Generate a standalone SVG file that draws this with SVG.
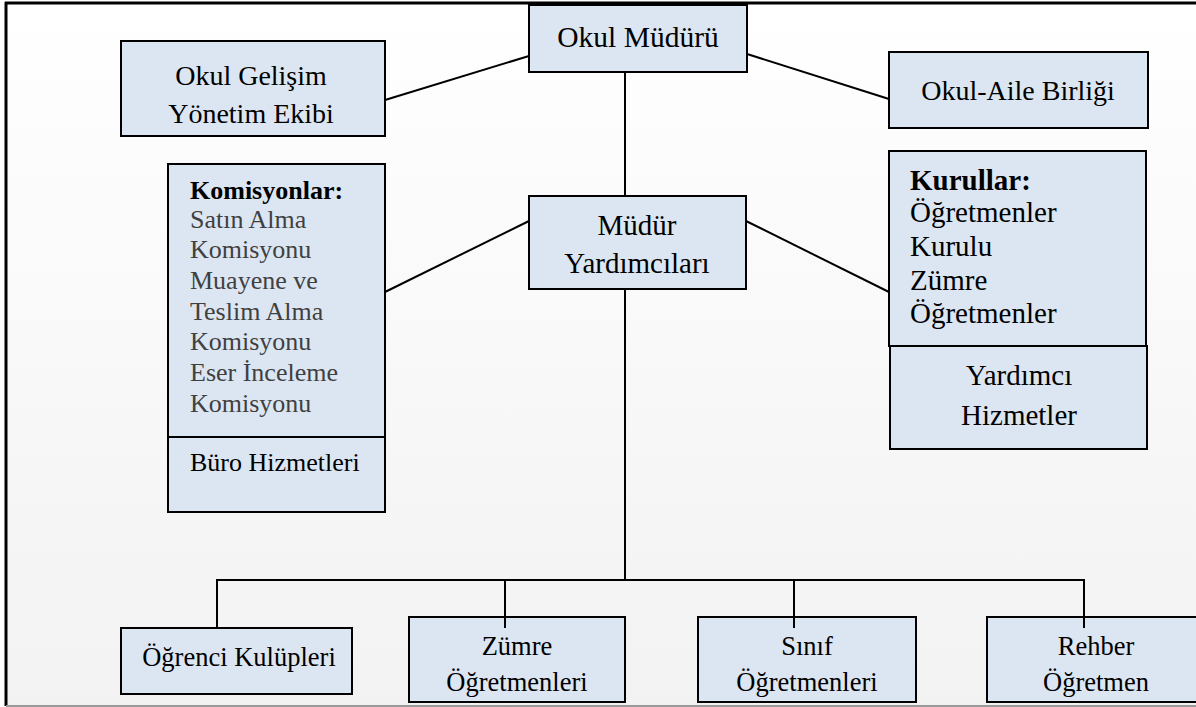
<svg xmlns="http://www.w3.org/2000/svg" width="1196" height="707" viewBox="0 0 1196 707">
<defs>
<linearGradient id="bg" x1="0" y1="0" x2="0" y2="1">
<stop offset="0" stop-color="#ffffff"/>
<stop offset="1" stop-color="#f2f2f2"/>
</linearGradient>
</defs>
<style>
.box{fill:#dce6f2;stroke:#000;stroke-width:2}
text{font-family:'Liberation Serif','Times New Roman','DejaVu Serif',serif}
.t{font-size:29px;fill:#000}
.m{font-size:28px;fill:#000}
.u{font-size:26.5px;fill:#000}
.c{text-anchor:middle}
.s{font-size:26px;fill:#404040}
.b{font-weight:bold;fill:#000}
.k{fill:#000}
.ln{stroke:#000;stroke-width:2;fill:none}
</style>
<rect x="0" y="0" width="1196" height="707" fill="#ffffff"/>
<rect x="6" y="3" width="1190" height="703" fill="url(#bg)"/>
<g id="frame">
<line x1="5" y1="3" x2="1196" y2="3" stroke="#000" stroke-width="3"/>
<line x1="6" y1="2" x2="6" y2="706" stroke="#000" stroke-width="3"/>
<line x1="6" y1="706" x2="1196" y2="706" stroke="#999" stroke-width="2"/>
</g>
<g id="connectors">
<line class="ln" x1="529" y1="56" x2="385" y2="100"/>
<line class="ln" x1="747" y1="54" x2="889" y2="99"/>
<line class="ln" x1="625" y1="72" x2="625" y2="196"/>
<line class="ln" x1="529" y1="221" x2="385" y2="292"/>
<line class="ln" x1="746" y1="221" x2="889" y2="292"/>
<line class="ln" x1="625" y1="289" x2="625" y2="580"/>
<line class="ln" x1="216" y1="580" x2="1085" y2="580"/>
<line class="ln" x1="217" y1="580" x2="217" y2="628"/>
<line class="ln" x1="505" y1="580" x2="505" y2="628"/>
<line class="ln" x1="794" y1="580" x2="794" y2="628"/>
<line class="ln" x1="1084" y1="580" x2="1084" y2="628"/>
</g>
<g id="okul-muduru">
<rect class="box" x="529" y="5" width="218" height="67"/>
<text class="t c" x="638" y="47" style="font-size:29.5px">Okul Müdürü</text>
</g>
<g id="okul-gelisim">
<rect class="box" x="121" y="41" width="264" height="95"/>
<text class="m c" x="251" y="85">Okul Gelişim</text>
<text class="m c" x="251" y="123">Yönetim Ekibi</text>
</g>
<g id="okul-aile">
<rect class="box" x="889" y="52" width="259" height="76"/>
<text class="m c" x="1018" y="100">Okul-Aile Birliği</text>
</g>
<g id="mudur-yardimcilari">
<rect class="box" x="529" y="196" width="217" height="93"/>
<text class="t c" x="637" y="235">Müdür</text>
<text class="t c" x="637" y="273">Yardımcıları</text>
</g>
<g id="komisyonlar">
<rect class="box" x="168" y="164" width="217" height="273"/>
<text class="s b" x="190" y="199">Komisyonlar:</text>
<text class="s" x="190" y="228">Satın Alma</text>
<text class="s" x="190" y="258">Komisyonu</text>
<text class="s" x="190" y="289">Muayene ve</text>
<text class="s" x="190" y="320">Teslim Alma</text>
<text class="s" x="190" y="350">Komisyonu</text>
<text class="s" x="190" y="381">Eser İnceleme</text>
<text class="s" x="190" y="412">Komisyonu</text>
</g>
<g id="buro-hizmetleri">
<rect class="box" x="168" y="437" width="217" height="75"/>
<text class="s k" x="190" y="471">Büro Hizmetleri</text>
</g>
<g id="kurullar">
<rect class="box" x="889" y="151" width="257" height="195"/>
<text class="t b" x="910" y="190">Kurullar:</text>
<text class="t" x="910" y="222">Öğretmenler</text>
<text class="t" x="910" y="256">Kurulu</text>
<text class="t" x="910" y="290">Zümre</text>
<text class="t" x="910" y="323">Öğretmenler</text>
</g>
<g id="yardimci-hizmetler">
<rect class="box" x="890" y="346" width="257" height="103"/>
<text class="t c" x="1019" y="385">Yardımcı</text>
<text class="t c" x="1019" y="425">Hizmetler</text>
</g>
<g id="ogrenci-kulupleri">
<rect class="box" x="121" y="628" width="231" height="66"/>
<text class="u c" x="239" y="666">Öğrenci Kulüpleri</text>
</g>
<g id="zumre-ogretmenleri">
<rect class="box" x="409" y="617" width="216" height="85"/>
<line class="ln" x1="505" y1="617" x2="505" y2="628"/>
<text class="u c" x="517" y="655">Zümre</text>
<text class="u c" x="517" y="691">Öğretmenleri</text>
</g>
<g id="sinif-ogretmenleri">
<rect class="box" x="698" y="617" width="218" height="85"/>
<line class="ln" x1="794" y1="617" x2="794" y2="628"/>
<text class="u c" x="807" y="655">Sınıf</text>
<text class="u c" x="807" y="691">Öğretmenleri</text>
</g>
<g id="rehber-ogretmen">
<rect class="box" x="987" y="617" width="215" height="85"/>
<line class="ln" x1="1084" y1="617" x2="1084" y2="628"/>
<text class="u c" x="1096" y="655">Rehber</text>
<text class="u c" x="1096" y="691">Öğretmen</text>
</g>
</svg>
